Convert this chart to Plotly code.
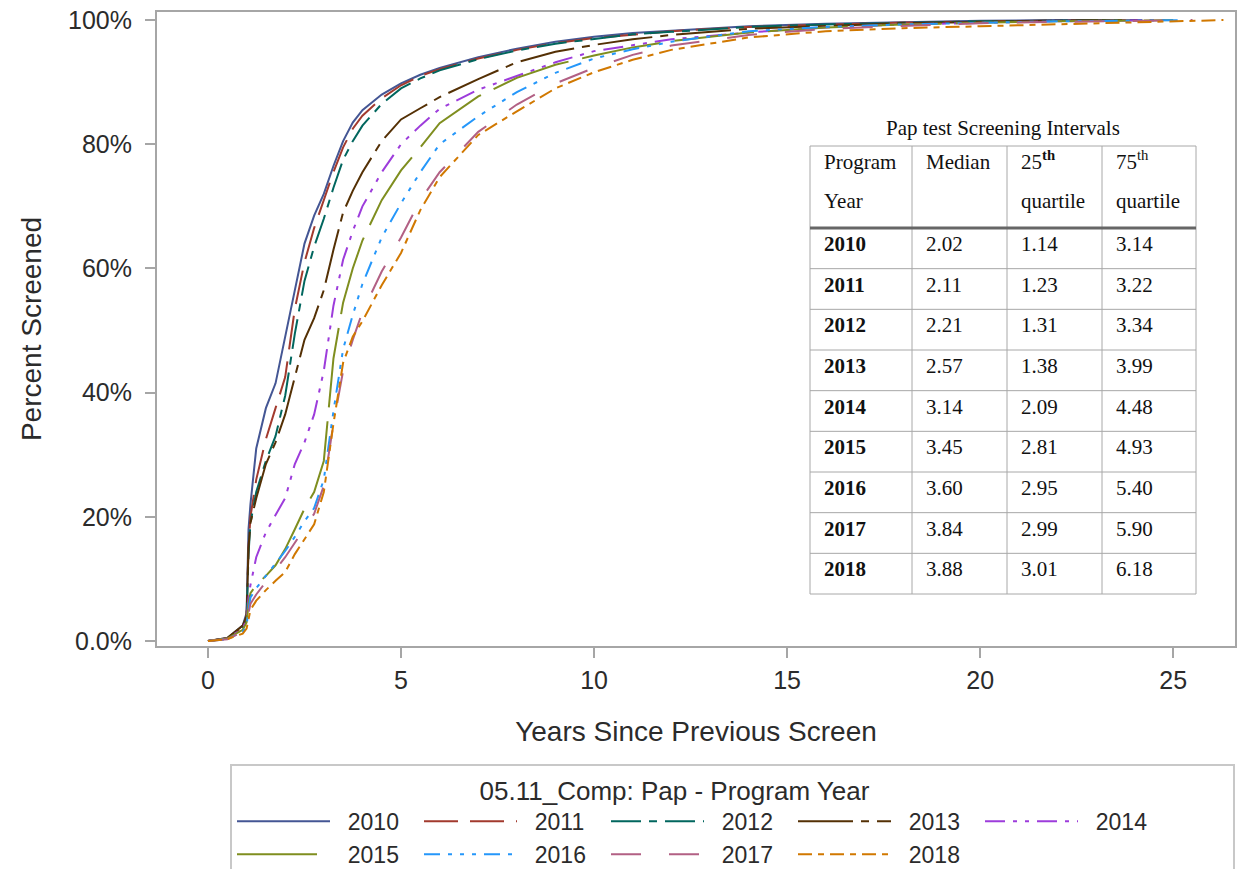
import plotly.graph_objects as go

# ---------------- data ----------------
YEARS = [2010, 2011, 2012, 2013, 2014, 2015, 2016, 2017, 2018]

# years since previous screen at which the curves were read
X_YEARS = [0, 0.5, 0.9, 1.0, 1.05, 1.1, 1.25, 1.5, 1.75, 2.0, 2.25, 2.5, 2.75,
           3.0, 3.25, 3.5, 3.75, 4.0, 4.5, 5.0, 5.5, 6.0, 7.0, 8.0, 9.0, 10.0,
           11.0, 12.0, 14.0, 16.0, 18.0, 20.0, 22.0]

# cumulative percent screened at X_YEARS
P2010 = [0, 0.5, 2.5, 4.5, 18, 22, 31, 37.5, 41.5, 49, 57, 64, 68.5, 72, 76.5, 80.5,
         83.5, 85.5, 88, 89.8, 91.2, 92.3, 94, 95.4, 96.5, 97.3, 97.9, 98.3, 99, 99.4,
         99.7, 99.9, 100]
P2011 = [0, 0.4, 2.2, 4, 15, 20, 26, 32.5, 37.5, 42.5, 53.5, 61, 66.5, 71, 75.5, 79.5,
         82.5, 84.6, 87.4, 89.5, 91, 92.1, 93.8, 95.2, 96.3, 97.1, 97.7, 98.2, 98.9,
         99.3, 99.6, 99.8, 99.9]
P2012 = [0, 0.4, 2, 3.5, 14, 19, 24, 29, 33, 39.5, 49.5, 58, 63.5, 68, 73, 77.5,
         80.5, 83, 86.5, 89, 90.6, 91.9, 93.7, 95.1, 96.2, 97, 97.7, 98.1, 98.9,
         99.3, 99.6, 99.8, 99.9]
P2013 = [0, 0.5, 2.5, 4, 15, 19, 23, 28.5, 32, 36.5, 42.5, 48.5, 52, 56.5, 63, 69,
         72.5, 75.5, 80.5, 84, 85.8, 87.6, 90.5, 93.2, 94.9, 96, 96.9, 97.6, 98.6,
         99.1, 99.5, 99.7, 99.9]
P2014 = [0, 0.4, 2, 3.5, 7, 9, 13.5, 17.5, 20.3, 23, 28.5, 32, 36.5, 43.5, 54, 61.4,
         66, 70, 75.5, 80, 83, 85.7, 88.8, 91, 93.2, 95, 96, 96.9, 98, 98.8, 99.3,
         99.6, 99.8]
P2015 = [0, 0.4, 1.8, 3, 6, 7.7, 9, 10.5, 12.2, 14.8, 18, 21.3, 24, 29, 45.5, 54.5,
         60, 64.5, 71, 75.8, 79.5, 83.4, 87.7, 90.7, 92.8, 94.3, 95.6, 96.6, 98,
         98.8, 99.3, 99.6, 99.8]
P2016 = [0, 0.3, 1.5, 2.5, 5, 7, 8.5, 10.5, 12.5, 14.5, 16.8, 19.3, 21.4, 26, 37, 47,
         52.5, 57.5, 65, 70.5, 75.5, 80, 84.5, 88.4, 91.5, 93.8, 95.3, 96.5, 98.2,
         98.9, 99.3, 99.6, 99.8]
P2017 = [0, 0.3, 1.5, 2.5, 4.5, 6, 7.5, 9.6, 11.5, 13.5, 15.8, 18.2, 20.5, 25, 35,
         43.5, 48.5, 53, 59.5, 65, 71, 75.5, 82, 86.4, 89.8, 92.3, 94.4, 95.9, 97.6,
         98.6, 99.1, 99.5, 99.7]
P2018 = [0, 0.3, 1.2, 2, 3.5, 5, 6.5, 8.2, 9.7, 11.1, 14, 16.4, 18.8, 24, 35, 44.8,
         49, 51.5, 57.3, 62.5, 69.4, 74.7, 81.5, 85.3, 89, 91.6, 93.6, 95.2, 97.2,
         98.2, 98.7, 99, 99.3]
SERIES = [P2010, P2011, P2012, P2013, P2014, P2015, P2016, P2017, P2018]

# last observed interval (years) for each program year, where curves reach 100%
END_X = [23.5, 24.0, 24.2, 24.5, 24.8, 25.0, 25.3, 25.5, 26.3]
END_Y = [100, 100, 100, 100, 100, 100, 100, 100, 100]

# inset table: Pap test Screening Intervals
TABLE_YEARS = ["2010", "2011", "2012", "2013", "2014", "2015", "2016", "2017", "2018"]
MEDIAN = ["2.02", "2.11", "2.21", "2.57", "3.14", "3.45", "3.60", "3.84", "3.88"]
Q25 = ["1.14", "1.23", "1.31", "1.38", "2.09", "2.81", "2.95", "2.99", "3.01"]
Q75 = ["3.14", "3.22", "3.34", "3.99", "4.48", "4.93", "5.40", "5.90", "6.18"]

Y_TICKS = [0, 20, 40, 60, 80, 100]
Y_TICKTEXT = ["0.0%", "20%", "40%", "60%", "80%", "100%"]
X_TICKS = [0, 5, 10, 15, 20, 25]
LEGEND_TITLE = "05.11_Comp: Pap - Program Year"

# ---------------- styles ----------------
COLORS = ["#445694", "#A23A2E", "#01665E", "#543005", "#9D3CDB",
          "#7F8E1F", "#2597FA", "#B26084", "#D17800"]
DASHES = ["solid", "34px,12px", "30px,8px,8px,8px", "55px,8px,8px,8px",
          "20px,8px,4px,8px,4px,8px", "80px,14px", "16px,8px,4px,8px,4px,8px,4px,8px",
          "30px,28px", "14px,6px,6px,6px"]

W, H = 1238, 869
ML, MR, MT, MB = 157, 3, 12, 223
PW, PH = W - ML - MR, H - MT - MB
AXIS_COLOR = "#a6a6a6"
TEXT_COLOR = "#2b2b2b"
SANS = "Liberation Sans, Arial, sans-serif"
SERIF = "Liberation Serif, Times New Roman, serif"
NB = "\u00a0"


def pxx(x):
    return (x - ML) / PW


def pxy(y):
    return (H - MB - y) / PH


fig = go.Figure()
for yr, vals, ex, ey, col, dash in zip(YEARS, SERIES, END_X, END_Y, COLORS, DASHES):
    fig.add_trace(go.Scatter(
        x=X_YEARS + [ex], y=vals + [ey], mode="lines", name=NB * 2 + str(yr),
        line=dict(color=col, width=2, dash=dash), hoverinfo="skip"))

# ---------------- inset table ----------------
COL_EDGES = [810, 912, 1007, 1102, 1196]
TOP, HEAD_BOTTOM, BOTTOM = 146, 228, 594
ROW_H = (BOTTOM - HEAD_BOTTOM) / len(TABLE_YEARS)
GRID = "#a8a8a8"

shapes = []
shapes.append(dict(type="rect", xref="paper", yref="paper",
                   x0=pxx(COL_EDGES[0]), x1=pxx(COL_EDGES[-1]), y0=pxy(TOP), y1=pxy(BOTTOM),
                   line=dict(color=GRID, width=1), fillcolor="rgba(255,255,255,0)"))
for cx in COL_EDGES[1:-1]:
    shapes.append(dict(type="line", xref="paper", yref="paper",
                       x0=pxx(cx), x1=pxx(cx), y0=pxy(TOP), y1=pxy(BOTTOM),
                       line=dict(color=GRID, width=1)))
for i in range(1, len(TABLE_YEARS)):
    ry = HEAD_BOTTOM + ROW_H * i
    shapes.append(dict(type="line", xref="paper", yref="paper",
                       x0=pxx(COL_EDGES[0]), x1=pxx(COL_EDGES[-1]), y0=pxy(ry), y1=pxy(ry),
                       line=dict(color=GRID, width=1)))
shapes.append(dict(type="line", xref="paper", yref="paper",
                   x0=pxx(COL_EDGES[0]), x1=pxx(COL_EDGES[-1]),
                   y0=pxy(HEAD_BOTTOM), y1=pxy(HEAD_BOTTOM),
                   line=dict(color="#666666", width=3)))

annotations = []


def tcell(text, x, y, anchor="left", size=21):
    annotations.append(dict(text=text, xref="paper", yref="paper", x=pxx(x), y=pxy(y),
                            xanchor=anchor, yanchor="middle", showarrow=False,
                            font=dict(family=SERIF, size=size, color="#111111")))


tcell("Pap test Screening Intervals", (COL_EDGES[0] + COL_EDGES[-1]) / 2, 128, "center")
TX = [c + 12 for c in COL_EDGES[:-1]]
tcell("Program", TX[0], 162)
tcell("Year", TX[0], 201)
tcell("Median", TX[1], 162)
tcell("25<sup><b>th</b></sup>", TX[2], 160)
tcell("quartile", TX[2], 201)
tcell("75<sup>th</sup>", TX[3], 160)
tcell("quartile", TX[3], 201)
for i, (yr, md, q1, q3) in enumerate(zip(TABLE_YEARS, MEDIAN, Q25, Q75)):
    cy = HEAD_BOTTOM + ROW_H * i + 16
    tcell("<b>" + yr + "</b>", TX[0], cy)
    tcell(md, TX[1], cy)
    tcell(q1, TX[2], cy)
    tcell(q3, TX[3], cy)

axis_common = dict(showline=True, linecolor=AXIS_COLOR, linewidth=2, mirror=True,
                   ticks="outside", ticklen=10, tickwidth=2, tickcolor=AXIS_COLOR,
                   showgrid=False, zeroline=False,
                   tickfont=dict(family=SANS, size=25, color=TEXT_COLOR))

fig.update_layout(
    width=W, height=H,
    margin=dict(l=ML, r=MR, t=MT, b=MB, autoexpand=False),
    paper_bgcolor="white", plot_bgcolor="white",
    showlegend=True,
    xaxis=dict(range=[-1.32, 26.6], tickvals=X_TICKS, ticklabelstandoff=1,
               title=dict(text="Years Since Previous Screen", standoff=28,
                          font=dict(family=SANS, size=28, color=TEXT_COLOR)),
               **axis_common),
    yaxis=dict(range=[-0.8, 101.3], tickvals=Y_TICKS, ticktext=Y_TICKTEXT,
               ticklabelstandoff=8,
               title=dict(text="Percent Screened", standoff=18,
                          font=dict(family=SANS, size=28, color=TEXT_COLOR)),
               **axis_common),
    legend=dict(orientation="h", x=pxx(230), y=pxy(764), xanchor="left", yanchor="top",
                title=dict(text=NB * 34 + LEGEND_TITLE + NB * 50, side="top",
                           font=dict(family=SANS, size=26, color=TEXT_COLOR)),
                font=dict(family=SANS, size=23, color=TEXT_COLOR),
                itemwidth=93, entrywidth=79, entrywidthmode="pixels",
                bordercolor="#c8c8c8", borderwidth=2, bgcolor="white",
                traceorder="normal"),
    shapes=shapes,
    annotations=annotations,
)

fig.write_html("out.html", config={"displayModeBar": False},
               post_script="document.body.style.margin='0px';")
